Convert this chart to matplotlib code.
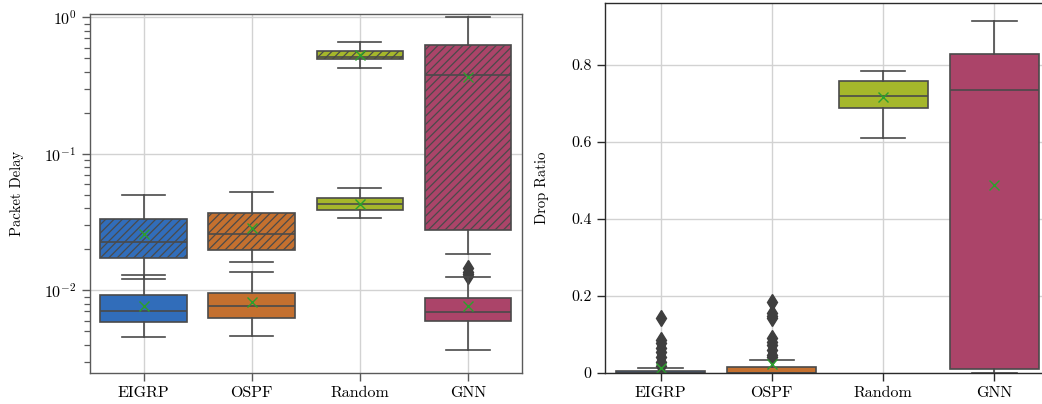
import matplotlib

matplotlib.use("Agg")
import matplotlib.pyplot as plt
from matplotlib.ticker import FuncFormatter

plt.rcParams["font.family"] = "serif"
plt.rcParams["font.serif"] = ["cmr10", "DejaVu Serif"]
plt.rcParams["mathtext.fontset"] = "cm"
plt.rcParams["axes.formatter.use_mathtext"] = True
plt.rcParams["hatch.linewidth"] = 0.9

categories = ["EIGRP", "OSPF", "Random", "GNN"]
colors = ["#316dba", "#c4702f", "#a5b72b", "#ab4469"]

# packet delay, hatched boxes (upper group)
delay_hi_whislo = [0.0122, 0.0162, 0.427, 0.0184]
delay_hi_q1 = [0.0173, 0.0197, 0.495, 0.0277]
delay_hi_med = [0.0225, 0.0259, 0.515, 0.380]
delay_hi_q3 = [0.0331, 0.0367, 0.563, 0.627]
delay_hi_whishi = [0.0499, 0.0522, 0.659, 1.01]
delay_hi_mean = [0.0259, 0.0288, 0.530, 0.367]
delay_hi_fliers = [[], [], [], [0.0127, 0.0131, 0.0136, 0.0145]]

# packet delay, plain boxes (lower group)
delay_lo_whislo = [0.00453, 0.00465, 0.0337, 0.00366]
delay_lo_q1 = [0.00583, 0.00630, 0.0388, 0.00599]
delay_lo_med = [0.00710, 0.00767, 0.0429, 0.00690]
delay_lo_q3 = [0.00924, 0.00955, 0.0475, 0.00874]
delay_lo_whishi = [0.01294, 0.01368, 0.0559, 0.0126]
delay_lo_mean = [0.00767, 0.00817, 0.0431, 0.00767]
delay_lo_fliers = [[], [], [], []]

# drop ratio
drop_whislo = [0.0, 0.0, 0.610, 0.0]
drop_q1 = [0.0, 0.0, 0.687, 0.0104]
drop_med = [0.0, 0.0, 0.718, 0.733]
drop_q3 = [0.006, 0.0148, 0.757, 0.827]
drop_whishi = [0.013, 0.033, 0.784, 0.913]
drop_mean = [0.012, 0.0226, 0.716, 0.489]
drop_fliers = [
    [0.018, 0.029, 0.042, 0.055, 0.064, 0.077, 0.086, 0.143],
    [0.041, 0.047, 0.060, 0.073, 0.081, 0.090, 0.142, 0.148, 0.155, 0.185],
    [],
    [],
]

EDGE = "#4a4a4a"
GRID = "#d2d2d2"


def make_stats(whislo, q1, med, q3, whishi, mean, fliers):
    return [
        dict(label=c, whislo=a, q1=b, med=m, q3=d, whishi=e, mean=mu, fliers=f)
        for c, a, b, m, d, e, mu, f in zip(categories, whislo, q1, med, q3, whishi, mean, fliers)
    ]


def draw_boxes(ax, stats, hatch=None):
    line = dict(color=EDGE, linewidth=1.2)
    bp = ax.bxp(
        stats,
        positions=range(len(stats)),
        widths=0.8,
        capwidths=0.4,
        patch_artist=True,
        showmeans=True,
        boxprops=dict(edgecolor=EDGE, linewidth=1.2),
        medianprops=line,
        whiskerprops=line,
        capprops=line,
        meanprops=dict(marker="x", markeredgecolor="#2ca02c", markersize=7, markeredgewidth=1.0),
        flierprops=dict(marker="d", markerfacecolor="#3f3f3f", markeredgecolor="#3f3f3f", markersize=8.5),
    )
    for patch, col in zip(bp["boxes"], colors):
        patch.set_facecolor(col)
        patch.set_edgecolor(EDGE)
        if hatch:
            patch.set_hatch(hatch)
    return bp


def style_axes(ax, spine_color):
    ax.set_axisbelow(True)
    ax.grid(True, which="major", color=GRID, linewidth=1.0)
    for sp in ax.spines.values():
        sp.set_color(spine_color)
        sp.set_linewidth(1.0)
    ax.tick_params(which="major", direction="out", length=6, width=1.0, color=spine_color, labelsize=11.5)
    ax.tick_params(which="minor", direction="out", length=4, width=0.9, color=spine_color)
    ax.set_xlim(-0.5, 3.5)
    ax.set_xticks(range(len(categories)))
    ax.set_xticklabels(categories)


fig = plt.figure(figsize=(10.42, 4.04), dpi=100)

ax1 = fig.add_axes([0.0859, 0.0767, 0.4151, 0.8886])
ax1.set_yscale("log")
draw_boxes(ax1, make_stats(delay_hi_whislo, delay_hi_q1, delay_hi_med, delay_hi_q3,
                           delay_hi_whishi, delay_hi_mean, delay_hi_fliers), hatch="////")
draw_boxes(ax1, make_stats(delay_lo_whislo, delay_lo_q1, delay_lo_med, delay_lo_q3,
                           delay_lo_whishi, delay_lo_mean, delay_lo_fliers))
style_axes(ax1, "#5a5a5a")
ax1.set_ylim(0.00248, 1.057)
ax1.set_ylabel("Packet Delay", fontsize=10.5, labelpad=14)

ax2 = fig.add_axes([0.5806, 0.0767, 0.4271, 0.9151])
draw_boxes(ax2, make_stats(drop_whislo, drop_q1, drop_med, drop_q3,
                           drop_whishi, drop_mean, drop_fliers))
style_axes(ax2, "#2a2a2a")
ax2.set_ylim(0, 0.959)
ax2.set_yticks([0, 0.2, 0.4, 0.6, 0.8])
ax2.yaxis.set_major_formatter(FuncFormatter(lambda v, _: f"{v:g}"))
ax2.set_ylabel("Drop Ratio", fontsize=10.5, labelpad=16)

fig.savefig("out.png", dpi=100)
